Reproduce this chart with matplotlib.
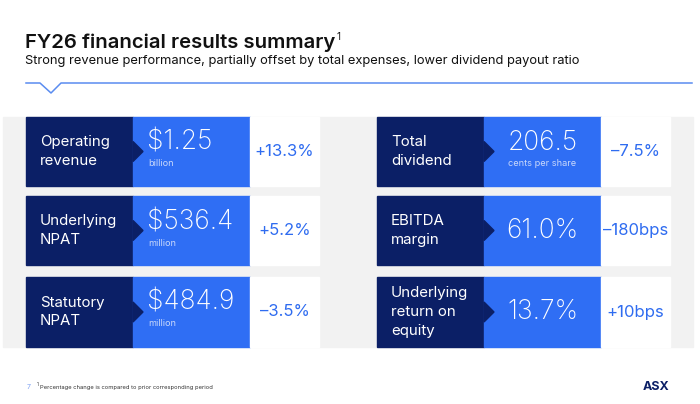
import matplotlib.pyplot as plt
from matplotlib.patches import Rectangle, Polygon

# ===== Slide content =====
TITLE = "FY26 financial results summary"
SUBTITLE = "Strong revenue performance, partially offset by total expenses, lower dividend payout ratio"
FOOTNOTE = "Percentage change is compared to prior corresponding period"
PAGE_NUMBER = "7"

left_labels = [["Operating", "revenue"], ["Underlying", "NPAT"], ["Statutory", "NPAT"]]
left_values = ["$1.25", "$536.4", "$484.9"]
left_units = ["billion", "million", "million"]
left_changes = ["+13.3%", "+5.2%", "\u20133.5%"]

right_labels = [["Total", "dividend"], ["EBITDA", "margin"], ["Underlying", "return on", "equity"]]
right_values = ["206.5", "61.0%", "13.7%"]
right_units = ["cents per share", "", ""]
right_changes = ["\u20137.5%", "\u2013180bps", "+10bps"]

# ===== Colours =====
NAVY = "#0b1f66"
BLUE = "#2f6ef4"
CHANGE_BLUE = "#2f6cf0"
LINE_BLUE = "#5a8cf0"
PANEL_GREY = "#f2f2f2"
UNIT_COLOUR = "#c9d8fb"
FONT = ["Inter", "DejaVu Sans"]

plt.rcParams["font.family"] = FONT

fig = plt.figure(figsize=(7.0, 4.04), dpi=100)
ax = fig.add_axes([0, 0, 1, 1])
ax.set_xlim(0, 700)
ax.set_ylim(404, 0)
ax.axis("off")

# Header
title = ax.text(25, 48, TITLE, fontsize=14.6, fontweight="semibold", color="#111111",
                va="baseline")
ax.text(25, 64, SUBTITLE, fontsize=9.3, color="#111111", va="baseline")
# superscript right after the title
renderer = fig.canvas.get_renderer()
bb = title.get_window_extent(renderer).transformed(ax.transData.inverted())
ax.text(bb.x1 + 1, 40, "1", fontsize=7, color="#111111", va="baseline")
ax.plot([26, 40, 51, 61, 692], [83, 83, 93, 83, 83], color=LINE_BLUE, lw=1.1)

# Grey panel behind the cards
ax.add_patch(Rectangle((3, 117), 690, 230, color=PANEL_GREY, zorder=0))

row_tops = [117, 196, 277]
row_h = [69, 69, 70]


def draw_card(x0, top, h, label, value, unit, change, value_align):
    dark_w, blue_w, white_w = 107, 117, 69
    ax.add_patch(Rectangle((x0, top), dark_w, h, color=NAVY, zorder=1))
    ax.add_patch(Rectangle((x0 + dark_w, top), blue_w, h, color=BLUE, zorder=1))
    ax.add_patch(Rectangle((x0 + dark_w + blue_w, top), white_w, h, color="white", zorder=1))
    mid = top + h / 2
    # small arrow from the label block into the value block
    ax.add_patch(Polygon([(x0 + dark_w, mid - 10), (x0 + dark_w + 10, mid),
                          (x0 + dark_w, mid + 10)], color=NAVY, zorder=2))
    # label lines
    n = len(label)
    for i, line in enumerate(label):
        y = mid + (i - (n - 1) / 2) * 18.5
        ax.text(x0 + 14, y, line, fontsize=10.8, color="white", va="center", zorder=3)
    # value + unit
    if value_align == "left":
        vx, ha = x0 + dark_w + 14, "left"
    else:
        vx, ha = x0 + dark_w + blue_w / 2, "center"
    if unit:
        ax.text(vx, top + 26, value, fontsize=19, color="white", va="center",
                ha=ha, fontweight="light", zorder=3)
        ax.text(vx + (1 if ha == "left" else 0), top + 47, unit, fontsize=6.6,
                color=UNIT_COLOUR, va="center", ha=ha, zorder=3)
    else:
        ax.text(vx, mid, value, fontsize=19, color="white", va="center",
                ha=ha, fontweight="light", zorder=3)
    ax.text(x0 + dark_w + blue_w + white_w / 2, mid, change, fontsize=12,
            color=CHANGE_BLUE, va="center", ha="center", zorder=3)


for i in range(3):
    draw_card(26, row_tops[i], row_h[i], left_labels[i], left_values[i],
              left_units[i], left_changes[i], "left")
    draw_card(377, row_tops[i], row_h[i], right_labels[i], right_values[i],
              right_units[i], right_changes[i], "center")

# Footer
ax.text(27, 387, PAGE_NUMBER, fontsize=5, color="#7fa2f2", va="center")
ax.text(37, 385, "1", fontsize=3.3, color="#333333", va="center")
ax.text(40, 387, FOOTNOTE, fontsize=4.2, color="#333333", va="center")
ax.text(643, 387, "ASX", fontsize=9, fontweight="bold", color=NAVY, va="center")

fig.savefig("out.png", dpi=100)
